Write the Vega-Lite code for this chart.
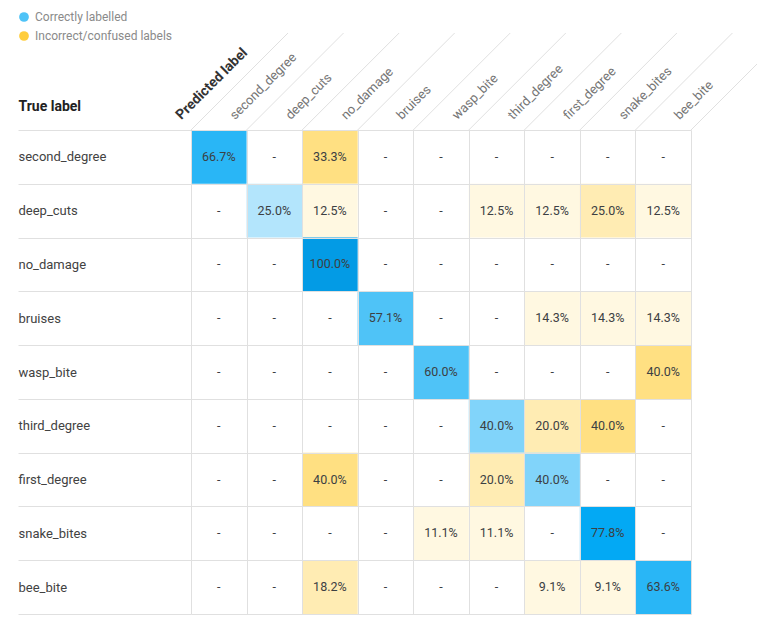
{
  "$schema": "https://vega.github.io/schema/vega-lite/v6.json",
  "width": 500,
  "height": 484,
  "autosize": {"type": "none"},
  "padding": {"left": 191, "top": 130, "right": 66, "bottom": 13},
  "background": "white",
  "config": {
    "font": "Roboto",
    "view": {"stroke": null},
    "legend": {"padding": 0}
  },
  "datasets": {
    "cells": [
      {"t":"second_degree","p":"second_degree","v":66.7},{"t":"second_degree","p":"deep_cuts","v":0},{"t":"second_degree","p":"no_damage","v":33.3},{"t":"second_degree","p":"bruises","v":0},{"t":"second_degree","p":"wasp_bite","v":0},{"t":"second_degree","p":"third_degree","v":0},{"t":"second_degree","p":"first_degree","v":0},{"t":"second_degree","p":"snake_bites","v":0},{"t":"second_degree","p":"bee_bite","v":0},
      {"t":"deep_cuts","p":"second_degree","v":0},{"t":"deep_cuts","p":"deep_cuts","v":25.0},{"t":"deep_cuts","p":"no_damage","v":12.5},{"t":"deep_cuts","p":"bruises","v":0},{"t":"deep_cuts","p":"wasp_bite","v":0},{"t":"deep_cuts","p":"third_degree","v":12.5},{"t":"deep_cuts","p":"first_degree","v":12.5},{"t":"deep_cuts","p":"snake_bites","v":25.0},{"t":"deep_cuts","p":"bee_bite","v":12.5},
      {"t":"no_damage","p":"second_degree","v":0},{"t":"no_damage","p":"deep_cuts","v":0},{"t":"no_damage","p":"no_damage","v":100.0},{"t":"no_damage","p":"bruises","v":0},{"t":"no_damage","p":"wasp_bite","v":0},{"t":"no_damage","p":"third_degree","v":0},{"t":"no_damage","p":"first_degree","v":0},{"t":"no_damage","p":"snake_bites","v":0},{"t":"no_damage","p":"bee_bite","v":0},
      {"t":"bruises","p":"second_degree","v":0},{"t":"bruises","p":"deep_cuts","v":0},{"t":"bruises","p":"no_damage","v":0},{"t":"bruises","p":"bruises","v":57.1},{"t":"bruises","p":"wasp_bite","v":0},{"t":"bruises","p":"third_degree","v":0},{"t":"bruises","p":"first_degree","v":14.3},{"t":"bruises","p":"snake_bites","v":14.3},{"t":"bruises","p":"bee_bite","v":14.3},
      {"t":"wasp_bite","p":"second_degree","v":0},{"t":"wasp_bite","p":"deep_cuts","v":0},{"t":"wasp_bite","p":"no_damage","v":0},{"t":"wasp_bite","p":"bruises","v":0},{"t":"wasp_bite","p":"wasp_bite","v":60.0},{"t":"wasp_bite","p":"third_degree","v":0},{"t":"wasp_bite","p":"first_degree","v":0},{"t":"wasp_bite","p":"snake_bites","v":0},{"t":"wasp_bite","p":"bee_bite","v":40.0},
      {"t":"third_degree","p":"second_degree","v":0},{"t":"third_degree","p":"deep_cuts","v":0},{"t":"third_degree","p":"no_damage","v":0},{"t":"third_degree","p":"bruises","v":0},{"t":"third_degree","p":"wasp_bite","v":0},{"t":"third_degree","p":"third_degree","v":40.0},{"t":"third_degree","p":"first_degree","v":20.0},{"t":"third_degree","p":"snake_bites","v":40.0},{"t":"third_degree","p":"bee_bite","v":0},
      {"t":"first_degree","p":"second_degree","v":0},{"t":"first_degree","p":"deep_cuts","v":0},{"t":"first_degree","p":"no_damage","v":40.0},{"t":"first_degree","p":"bruises","v":0},{"t":"first_degree","p":"wasp_bite","v":0},{"t":"first_degree","p":"third_degree","v":20.0},{"t":"first_degree","p":"first_degree","v":40.0},{"t":"first_degree","p":"snake_bites","v":0},{"t":"first_degree","p":"bee_bite","v":0},
      {"t":"snake_bites","p":"second_degree","v":0},{"t":"snake_bites","p":"deep_cuts","v":0},{"t":"snake_bites","p":"no_damage","v":0},{"t":"snake_bites","p":"bruises","v":0},{"t":"snake_bites","p":"wasp_bite","v":11.1},{"t":"snake_bites","p":"third_degree","v":11.1},{"t":"snake_bites","p":"first_degree","v":0},{"t":"snake_bites","p":"snake_bites","v":77.8},{"t":"snake_bites","p":"bee_bite","v":0},
      {"t":"bee_bite","p":"second_degree","v":0},{"t":"bee_bite","p":"deep_cuts","v":0},{"t":"bee_bite","p":"no_damage","v":18.2},{"t":"bee_bite","p":"bruises","v":0},{"t":"bee_bite","p":"wasp_bite","v":0},{"t":"bee_bite","p":"third_degree","v":0},{"t":"bee_bite","p":"first_degree","v":9.1},{"t":"bee_bite","p":"snake_bites","v":9.1},{"t":"bee_bite","p":"bee_bite","v":63.6}
    ],
    "legend": [
      {"k": "Correctly labelled"},
      {"k": "Incorrect/confused labels"}
    ]
  },
  "data": {"name": "cells"},
  "transform": [
    {"calculate": "datum.t === datum.p ? datum.v : -datum.v", "as": "s"},
    {"calculate": "datum.v > 0 ? format(datum.v, '.1f') + '%' : '-'", "as": "label"}
  ],
  "encoding": {
    "x": {
      "field": "p", "type": "nominal", "sort": null,
      "scale": {"type": "band", "paddingInner": 0, "paddingOuter": 0,
        "domain": ["second_degree", "deep_cuts", "no_damage", "bruises", "wasp_bite", "third_degree", "first_degree", "snake_bites", "bee_bite"]},
      "axis": {
        "orient": "top",
        "title": "Predicted label",
        "titleAngle": -45, "titleAlign": "left", "titleBaseline": "middle",
        "titleX": -13, "titleY": -13,
        "titleFontSize": 14, "titleFontWeight": "bold", "titleColor": "#333333",
        "labelAngle": -45, "labelAlign": "left", "labelBaseline": "middle",
        "labelPadding": 13, "labelOffset": 13,
        "labelFontSize": 13, "labelColor": "#757575",
        "ticks": false, "domain": false,
        "grid": true, "gridColor": "#e0e0e0", "tickBand": "extent"
      }
    },
    "y": {
      "field": "t", "type": "nominal", "sort": null,
      "scale": {"type": "band", "paddingInner": 0, "paddingOuter": 0,
        "domain": ["second_degree", "deep_cuts", "no_damage", "bruises", "wasp_bite", "third_degree", "first_degree", "snake_bites", "bee_bite"]},
      "axis": {
        "orient": "left",
        "title": "True label",
        "titleAngle": 0, "titleAlign": "left", "titleBaseline": "middle",
        "titleX": -173, "titleY": -24,
        "titleFontSize": 14, "titleFontWeight": "bold", "titleColor": "#212121",
        "labelAlign": "left", "labelBaseline": "middle",
        "labelPadding": 0, "labelFontSize": 13, "labelColor": "#424242",
        "ticks": true, "tickSize": 173, "tickColor": "#e0e0e0",
        "domain": false,
        "grid": true, "gridColor": "#e0e0e0", "tickBand": "extent"
      }
    }
  },
  "layer": [
    {
      "transform": [{"filter": "datum.v > 0"}],
      "mark": {"type": "rect"},
      "encoding": {
        "fill": {
          "field": "s", "type": "quantitative",
          "scale": {
            "type": "threshold",
            "domain": [-30, -15, 0, 30, 50, 62, 75, 90],
            "range": ["#ffe082", "#ffecb3", "#fff8e1", "#b3e5fc", "#81d4fa", "#4fc3f7", "#29b6f6", "#03a9f4", "#039be5"]
          },
          "legend": null
        }
      }
    },
    {
      "mark": {"type": "text", "fontSize": 12.5, "color": "#3c4043"},
      "encoding": {"text": {"field": "label"}}
    },
    {
      "transform": [{"filter": "datum.t === 'second_degree'"}],
      "mark": {"type": "rule", "color": "#e0e0e0", "strokeWidth": 1, "x2Offset": 97},
      "encoding": {
        "x": {"field": "p", "type": "nominal", "sort": null, "bandPosition": 0},
        "x2": {"field": "p", "bandPosition": 0},
        "y": {"value": 0},
        "y2": {"value": -97}
      }
    },
    {
      "transform": [{"filter": "datum.t === 'second_degree' && datum.p === 'bee_bite'"}],
      "mark": {"type": "rule", "color": "#e0e0e0", "strokeWidth": 1, "x2Offset": 97},
      "encoding": {
        "x": {"field": "p", "type": "nominal", "sort": null, "bandPosition": 1},
        "x2": {"field": "p", "bandPosition": 1},
        "y": {"value": 0},
        "y2": {"value": -97}
      }
    },
    {
      "data": {"name": "legend"},
      "mark": {"type": "circle", "opacity": 0},
      "encoding": {
        "x": null,
        "y": null,
        "color": {
          "field": "k", "type": "nominal",
          "scale": {"domain": ["Correctly labelled", "Incorrect/confused labels"], "range": ["#4fc3f7", "#ffcd3c"]},
          "legend": {
            "title": null,
            "orient": "none", "legendX": -173, "legendY": -119,
            "symbolType": "circle", "symbolSize": 95, "symbolOpacity": 1, "symbolStrokeWidth": 0,
            "labelFontSize": 12, "labelColor": "#8a8a8a", "labelOffset": 5,
            "rowPadding": 7
          }
        }
      }
    }
  ]
}
